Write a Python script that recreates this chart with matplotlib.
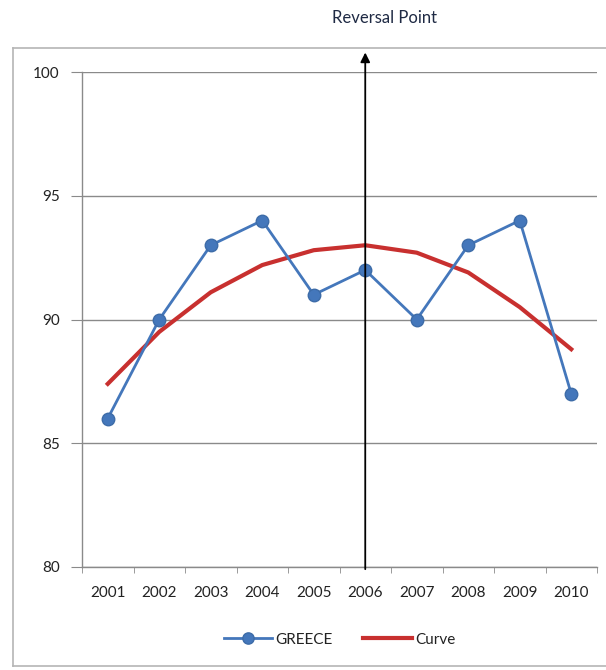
import matplotlib
matplotlib.use("Agg")
import matplotlib.pyplot as plt
from matplotlib.lines import Line2D

years = ["2001", "2002", "2003", "2004", "2005", "2006", "2007", "2008", "2009", "2010"]
greece = [86, 90, 93, 94, 91, 92, 90, 93, 94, 87]
curve = [87.4, 89.5, 91.1, 92.2, 92.8, 93.0, 92.7, 91.9, 90.5, 88.8]
reversal_year = "2006"
y_ticks = [80, 85, 90, 95, 100]

plt.rcParams["font.family"] = ["Lato", "DejaVu Sans"]
W, H = 606, 670
fig = plt.figure(figsize=(W / 100, H / 100), dpi=100)

# chart frame: left, top and bottom edges (it continues past the right edge)
fx0, fx1, fy_top, fy_bot = 13 / W, 1.05, 1 - 48 / H, 4 / H
for xs, ys in (([fx0, fx1], [fy_top, fy_top]),
               ([fx0, fx0], [fy_top, fy_bot]),
               ([fx0, fx1], [fy_bot, fy_bot])):
    fig.add_artist(Line2D(xs, ys, transform=fig.transFigure, color="#b5b5b5",
                          linewidth=1.2, clip_on=False))

left, right, top, bottom = 82, 597, 72, 567
ax = fig.add_axes([left / W, 1 - bottom / H, (right - left) / W, (bottom - top) / H])

x = list(range(len(years)))
ax.plot(x, greece, color="#4477bb", linewidth=2, marker="o", markersize=9,
        markerfacecolor="#4477bb", markeredgecolor="#3d6ca8", label="GREECE", zorder=3)
ax.plot(x, curve, color="#c8302f", linewidth=3, label="Curve", zorder=2)

ax.set_xlim(-0.5, len(years) - 0.5)
ax.set_ylim(y_ticks[0], y_ticks[-1])
ax.set_yticks(y_ticks)
ax.set_xticks(x)
ax.set_xticklabels(years)
ax.set_xticks([i - 0.5 for i in range(len(years) + 1)], minor=True)
ax.tick_params(axis="x", which="major", length=0, pad=14, labelsize=11, labelcolor="#222222")
ax.tick_params(axis="x", which="minor", length=4, color="#8a8a8a", direction="out")
ax.tick_params(axis="y", length=8, color="#8a8a8a", pad=8, labelsize=11, labelcolor="#222222")
ax.grid(axis="y", color="#8a8a8a", linewidth=1)
ax.set_axisbelow(True)
for side in ("top", "right"):
    ax.spines[side].set_visible(False)
for side in ("left", "bottom"):
    ax.spines[side].set_color("#8a8a8a")
    ax.spines[side].set_linewidth(1)

# reversal arrow
rx = years.index(reversal_year)
ax.annotate("", xy=(rx, 100.9), xytext=(rx, 79.8), xycoords="data",
            arrowprops=dict(arrowstyle="-|>", color="black", lw=1.3, mutation_scale=14),
            annotation_clip=False, zorder=5)
fig.text(385 / W, 1 - 18 / H, "Reversal Point", ha="center", va="center",
         fontsize=12, color="#1f2a44")

leg = ax.legend(loc="upper center", bbox_to_anchor=(0.5, -0.105), ncol=2, frameon=False,
                fontsize=11, handlelength=3.2, columnspacing=2.0, handletextpad=0.2,
                markerscale=0.9)
for t in leg.get_texts():
    t.set_color("#222222")

fig.savefig("out.png", dpi=100)
